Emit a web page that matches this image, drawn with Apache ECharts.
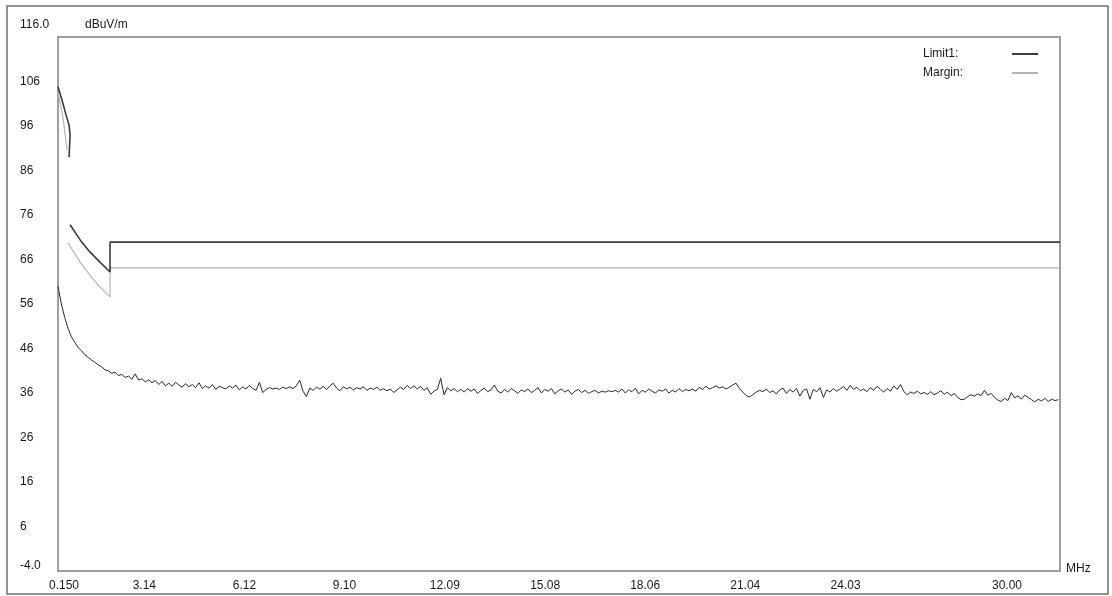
<!DOCTYPE html>
<html>
<head>
<meta charset="utf-8">
<style>
  html, body { margin: 0; padding: 0; background: #fff; }
  #chart { width: 1112px; height: 596px; }
</style>
<script src="https://cdn.jsdelivr.net/npm/echarts@6/dist/echarts.min.js"></script>
</head>
<body>
<div id="chart"></div>
<script>
// ---- data ----
const yTickValues = [-4, 6, 16, 26, 36, 46, 56, 66, 76, 86, 96, 106, 116];
const yTickLabels = ['-4.0', '6', '16', '26', '36', '46', '56', '66', '76', '86', '96', '106', '116.0'];
const xTickValues = [0.15, 3.14, 6.12, 9.10, 12.09, 15.08, 18.06, 21.04, 24.03, 30.00];
const xTickLabels = ['0.150', '3.14', '6.12', '9.10', '12.09', '15.08', '18.06', '21.04', '24.03', '30.00'];
const yUnit = 'dBuV/m';
const xUnit = 'MHz';

// Limit1 (dark) curve: frequency (MHz) and level (dBuV/m); null = gap
const limitFreq  = [0.15, 0.27, 0.39, 0.48, 0.51, 0.48, 0.48, 0.51, 0.81, 1.10, 1.40, 1.70, 1.70, 30.00];
const limitLevel = [104.8, 101.8, 98.5, 96.2, 94.0, 89.0, null, 73.8, 70.4, 67.7, 65.4, 63.2, 69.9, 69.9];

// Margin (light) curve
const marginFreq  = [0.15, 0.30, 0.42, 0.45, 0.45, 0.81, 1.10, 1.40, 1.70, 1.70, 30.00];
const marginLevel = [103.6, 97.8, 90.6, null, 69.7, 65.4, 62.5, 59.8, 57.6, 64.1, 64.1];

// Measured trace: scan from 0.15 MHz in 0.1 MHz steps
const scanStart = 0.15;
const scanStep = 0.1;
const traceLevel = [
60, 56, 53, 50.5, 48.6, 47.4, 46.2, 45.5, 44.6, 44.0,
43.4, 42.9, 42.3, 41.9, 41.2, 41.0, 40.4, 40.7, 39.9, 40.2,
39.5, 39.8, 39.1, 40.3, 38.9, 39.2, 38.5, 39.0, 38.3, 38.8,
37.9, 38.6, 37.6, 38.2, 37.5, 38.4, 37.8, 37.3, 38.1, 37.4,
37.9, 37.2, 38.3, 37.0, 37.6, 37.1, 37.9, 36.8, 37.5, 37.2,
36.9, 37.6, 37.1, 37.8, 36.7, 37.4, 36.9, 37.7, 37.0, 36.6,
38.4, 36.1, 36.8, 37.2, 36.9, 37.1, 36.8, 37.3, 37.0, 37.4,
37.0, 37.6, 38.9, 36.4, 35.2, 37.1, 36.6, 37.3, 36.9, 37.5,
36.8, 37.6, 38.2, 37.1, 36.5, 37.4, 36.9, 37.3, 36.7, 37.2,
36.9, 37.4, 36.6, 37.1, 36.8, 37.3, 36.6, 37.0, 36.5, 36.9,
36.1, 36.7, 37.3, 36.8, 37.7, 37.0, 37.6, 36.9, 37.5, 36.6,
37.2, 35.7, 36.4, 36.8, 39.3, 35.6, 37.2, 36.5, 37.0, 36.3,
36.8, 36.2, 37.0, 36.4, 36.9, 35.9, 36.6, 37.1, 36.3, 36.7,
37.8, 36.4, 36.0, 36.8, 36.2, 37.0, 36.5, 35.9, 36.7, 36.3,
36.9, 36.1, 36.6, 37.2, 36.0, 36.8, 36.4, 37.0, 35.8, 36.5,
36.9, 36.2, 36.7, 35.7, 36.4, 36.8, 36.1, 36.6, 35.9, 36.3,
36.6, 36.0, 36.4, 36.2, 36.5, 36.3, 36.6, 36.2, 36.9, 36.0,
36.7, 36.3, 37.1, 35.8, 36.6, 36.2, 36.9, 36.4, 36.0, 36.7,
36.4, 36.9, 36.0, 36.6, 36.2, 37.0, 36.3, 36.8, 36.5, 36.9,
36.4, 37.3, 36.8, 37.5, 36.9, 37.2, 37.6, 37.1, 37.4, 36.9,
37.3, 37.8, 38.2, 37.0, 36.2, 35.4, 35.1, 35.6, 36.2, 36.6,
36.3, 36.9, 36.1, 36.5, 35.8, 36.7, 37.1, 35.9, 36.8, 36.2,
37.0, 35.3, 36.6, 36.9, 34.6, 36.8, 36.3, 37.2, 35.0, 36.7,
36.2, 37.0, 36.4, 36.9, 37.5, 36.6, 37.7, 36.8, 37.3, 36.5,
36.9, 36.3, 37.2, 36.6, 37.5, 36.8, 36.2, 37.0, 36.4, 37.6,
36.8, 37.9, 36.3, 35.6, 36.2, 35.9, 36.4, 35.8, 36.1, 35.7,
36.3, 35.6, 36.0, 36.5, 35.7, 36.2, 35.4, 35.9, 35.0, 34.5,
34.6, 35.2, 35.6, 35.3, 35.8, 35.4, 36.6, 35.5, 35.9, 35.0,
34.4, 34.1, 34.8, 34.3, 36.1, 34.9, 35.4, 34.6, 35.5, 35.0,
34.5, 34.0, 34.6, 34.2, 34.8, 34.1, 34.6, 34.3, 34.5
];

// ---- build ----
function pairs(fs, vs) {
  return fs.map((f, i) => [f, vs[i] === null ? '-' : vs[i]]);
}
const traceData = traceLevel.map((v, i) => [+(scanStart + i * scanStep).toFixed(2), v]);

const FONT = '"Liberation Sans", Arial, sans-serif';
const TXT = '#1a1a1a';
const chart = echarts.init(document.getElementById('chart'), null, { renderer: 'canvas' });

chart.setOption({
  backgroundColor: '#ffffff',
  animation: false,
  grid: {
    left: 58, right: 52, top: 37, bottom: 25,
    show: true, borderColor: '#808080', borderWidth: 1.5, backgroundColor: 'transparent'
  },
  legend: {
    data: ['Limit1:', 'Margin:'],
    orient: 'vertical',
    right: 69,
    top: 43,
    align: 'right',
    itemWidth: 26,
    itemHeight: 2,
    itemGap: 7,
    icon: 'rect',
    selectedMode: false,
    formatter: function (name) { return '{t|' + name + '}'; },
    textStyle: {
      color: TXT, fontSize: 12, fontFamily: FONT,
      rich: { t: { width: 84, align: 'left', color: TXT, fontSize: 12, fontFamily: FONT } }
    }
  },
  xAxis: {
    type: 'value',
    min: 0.15,
    max: 30,
    name: xUnit,
    nameLocation: 'end',
    nameGap: 6,
    nameTextStyle: { color: TXT, fontSize: 12, fontFamily: FONT, align: 'left', verticalAlign: 'top', padding: [9, 0, 0, 0] },
    axisLine: { show: false },
    axisTick: { show: false },
    splitLine: { show: false },
    axisLabel: {
      customValues: xTickValues,
      margin: 9,
      align: 'center',
      color: TXT,
      fontSize: 12,
      fontFamily: FONT,
      formatter: function (v) {
        const i = xTickValues.findIndex(t => Math.abs(t - v) < 1e-6);
        const s = i >= 0 ? xTickLabels[i] : '';
        if (i === 0) return '{a|' + s + '}';
        if (i === xTickValues.length - 1) return '{z|' + s + '}';
        return '{m|' + s + '}';
      },
      rich: {
        a: { padding: [0, 0, 0, 12], color: TXT, fontSize: 12, fontFamily: FONT },
        m: { padding: [0, 28, 0, 0], color: TXT, fontSize: 12, fontFamily: FONT },
        z: { padding: [0, 106, 0, 0], color: TXT, fontSize: 12, fontFamily: FONT }
      }
    }
  },
  yAxis: {
    type: 'value',
    min: -4,
    max: 116,
    name: yUnit,
    nameLocation: 'end',
    nameGap: 12,
    nameTextStyle: { color: TXT, fontSize: 12, fontFamily: FONT, align: 'left', verticalAlign: 'middle', padding: [0, 0, 0, 27] },
    axisLine: { show: false },
    axisTick: { show: false },
    splitLine: { show: false },
    axisLabel: {
      customValues: yTickValues,
      margin: 38,
      align: 'left',
      color: TXT,
      fontSize: 12,
      fontFamily: FONT,
      formatter: function (v) {
        const i = yTickValues.findIndex(t => Math.abs(t - v) < 1e-6);
        const s = i >= 0 ? yTickLabels[i] : '';
        if (i === yTickValues.length - 1) return '{top|' + s + '}';
        if (i === 0) return '{bot|' + s + '}';
        return s;
      },
      rich: {
        top: { padding: [0, 0, 24, 0], color: TXT, fontSize: 12, fontFamily: FONT },
        bot: { padding: [0, 0, 10, 0], color: TXT, fontSize: 12, fontFamily: FONT }
      }
    }
  },
  graphic: [{
    type: 'rect',
    shape: { x: 7, y: 6, width: 1101, height: 588 },
    style: { fill: 'none', stroke: '#707070', lineWidth: 1.5 },
    silent: true
  }],
  series: [
    {
      name: 'Trace',
      type: 'line',
      data: traceData,
      symbol: 'none',
      lineStyle: { color: '#2a2a2a', width: 1 },
      itemStyle: { color: '#2a2a2a' },
      z: 3
    },
    {
      name: 'Margin:',
      type: 'line',
      data: pairs(marginFreq, marginLevel),
      symbol: 'none',
      connectNulls: false,
      lineStyle: { color: '#b4b4b4', width: 1.2 },
      itemStyle: { color: '#b4b4b4' },
      z: 2
    },
    {
      name: 'Limit1:',
      type: 'line',
      data: pairs(limitFreq, limitLevel),
      symbol: 'none',
      connectNulls: false,
      lineStyle: { color: '#3c3c3c', width: 1.6 },
      itemStyle: { color: '#3c3c3c' },
      z: 4
    }
  ]
});
</script>
</body>
</html>
